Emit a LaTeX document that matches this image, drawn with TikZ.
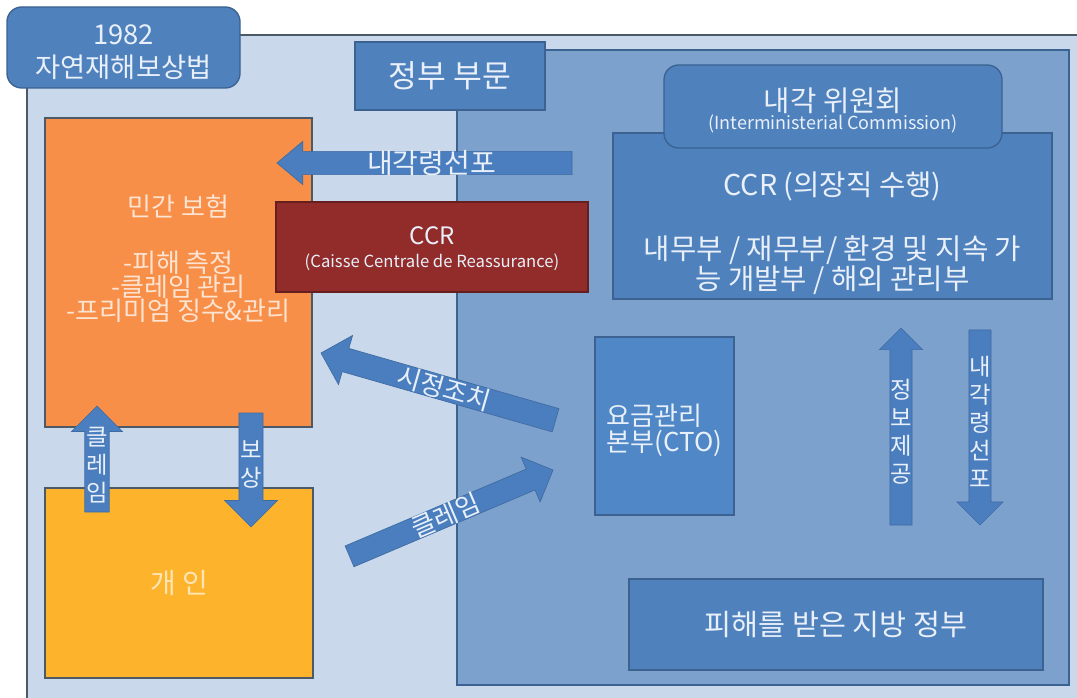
\documentclass[tikz,border=0pt]{standalone}
\usepackage{fontspec}
\setmainfont{Noto Sans CJK KR}
\usepackage{tikz}
\usetikzlibrary{arrows.meta, positioning, shapes}

\definecolor{outerfill}{HTML}{C9D8EA}
\definecolor{innerfill}{HTML}{7DA1CD}
\definecolor{boxblue}{HTML}{4F81BD}
\definecolor{boxline}{HTML}{3B6291}
\definecolor{ctoblue}{HTML}{4F87C7}
\definecolor{insorange}{HTML}{F78F48}
\definecolor{indyellow}{HTML}{FDB42C}
\definecolor{ccrred}{HTML}{912C2B}
\definecolor{arrowblue}{HTML}{4A7EBF}
\definecolor{paletext}{HTML}{E9F0F9}
\definecolor{edgegray}{HTML}{4C5A68}

\begin{document}
\begin{tikzpicture}[
    x=0.75pt, y=-0.75pt,
    every node/.style={inner sep=0pt, outer sep=0pt},
    sized/.style 2 args={minimum width=#1, minimum height=#2},
    box/.style={rectangle, draw=boxline, line width=1pt, fill=boxblue, text=paletext, align=center, font=\fontsize{21.5}{20}\selectfont},
    warmbox/.style={rectangle, draw=edgegray, line width=1pt, align=center},
    boxtext/.style={text=paletext, align=center},
    blockarrow/.style={single arrow, draw=arrowblue!85!black, line width=0.5pt, fill=arrowblue, text=paletext, align=center, font=\fontsize{21}{21}\selectfont, inner ysep=-1.1pt},
    slopedtext/.style={font=\fontsize{19.5}{20}\selectfont, inner ysep=-0.6pt},
    arrowsize/.style n args={3}{minimum height=#1, minimum width=#2, single arrow head extend=#3},
    stacked/.style={font=\fontsize{17.5}{21}\selectfont, inner sep=0pt}
  ]
  \useasboundingbox (0,0) rectangle (1077,698);
  \fill[white] (0,0) rectangle (1077,698);

  % panels
  \node[fill=outerfill, sized={789.75pt}{498.75pt}] (sector) at (553.5,367.5) {};
  \draw[edgegray, line width=1.2pt] (sector.south west) |- (sector.north east);
  \node[box, rounded corners=11pt, sized={174.75pt}{60.75pt},
    label={[boxtext, font=\fontsize{20.5}{25}\selectfont, yshift=-3.4pt]center:{1982\\자연재해보상법}}] (law) at (123.5,47.5) {};
  \node[fill=innerfill, draw=boxline, line width=1pt, sized={459pt}{476.25pt}] (public) at (763,367.5) {};
  \node[box, sized={142.5pt}{51pt}, font=\fontsize{23.5}{25}\selectfont] (gov) at (450,76) {정부 부문};

  % private side
  \node[warmbox, fill=insorange, sized={200.25pt}{231.75pt},
    label={[text=insorange!25!white, align=center, font=\fontsize{19.5}{18}\selectfont, yshift=10pt]center:{민간 보험\\[24pt]-피해 측정\\-클레임 관리\\-프리미엄 징수\&관리}}] (insurer) at (178.5,272.5) {};
  \node[warmbox, fill=indyellow, sized={201pt}{142.5pt}, text=indyellow!35!white, font=\fontsize{21}{21}\selectfont] (person) at (179,583) {개 인};
  \node[warmbox, draw=ccrred!70!black, fill=ccrred, sized={234pt}{67.5pt},
    label={[boxtext, font=\fontsize{18}{17}\selectfont, yshift=-1.5pt]center:{CCR\\{\fontsize{12.5}{17}\selectfont (Caisse Centrale de Reassurance)}}}] (ccr) at (432,247) {};

  % public side
  \node[box, sized={329.25pt}{124.5pt},
    label={[boxtext, font=\fontsize{21.5}{20}\selectfont, yshift=-13pt]center:{CCR (의장직 수행)\\[25pt]내무부 / 재무부/ 환경 및 지속 가\\능 개발부 / 해외 관리부}}] (board) at (832.5,216) {};
  \node[box, rounded corners=11pt, sized={253.5pt}{62.25pt},
    label={[boxtext, font=\fontsize{21.5}{17}\selectfont, yshift=-3pt]center:{내각 위원회\\[-3pt]{\fontsize{13.5}{17}\selectfont (Interministerial Commission)}}}] (committee) at (833,106.5) {};
  \node[box, fill=ctoblue, sized={104.25pt}{133.5pt},
    label={[boxtext, align=left, font=\fontsize{19.5}{19.5}\selectfont, yshift=-3pt]center:{요금관리\\본부(CTO)}}] (cto) at (664.5,426) {};
  \node[box, sized={310.5pt}{68.25pt}, font=\fontsize{22}{22}\selectfont] (local) at (836,624.5) {피해를 받은 지방 정부};

  % block arrows
  \node[blockarrow, arrowsize={221.25pt}{32.25pt}{7.5pt}, single arrow tip angle=80, shape border rotate=180, anchor=tip] (decree) at (277,163) {내각령선포};
  \node[blockarrow, slopedtext, arrowsize={183pt}{38.25pt}{9.4pt}, shape border rotate=180, rotate=-16, anchor=tip] (remedy) at (321,353) {시정조치};
  \node[blockarrow, slopedtext, arrowsize={165.75pt}{36pt}{9.75pt}, rotate=23, anchor=tip] (claim) at (553,470) {클레임};
  \node[blockarrow, stacked, arrowsize={79.5pt}{38.25pt}{9pt}, shape border rotate=90, anchor=tip] (claimup) at (97,406) {클\\레\\임};
  \node[blockarrow, stacked, arrowsize={85.5pt}{39.75pt}{10pt}, shape border rotate=270, anchor=tip] (pay) at (251,527) {보\\상};
  \node[blockarrow, stacked, arrowsize={147.75pt}{32.25pt}{7.9pt}, shape border rotate=90, anchor=tip] (info) at (901,328) {정\\보\\제\\공};
  \node[blockarrow, stacked, arrowsize={146.25pt}{34.5pt}{9pt}, shape border rotate=270, anchor=tip] (decreedown) at (980,525) {내\\각\\령\\선\\포};
\end{tikzpicture}
\end{document}
